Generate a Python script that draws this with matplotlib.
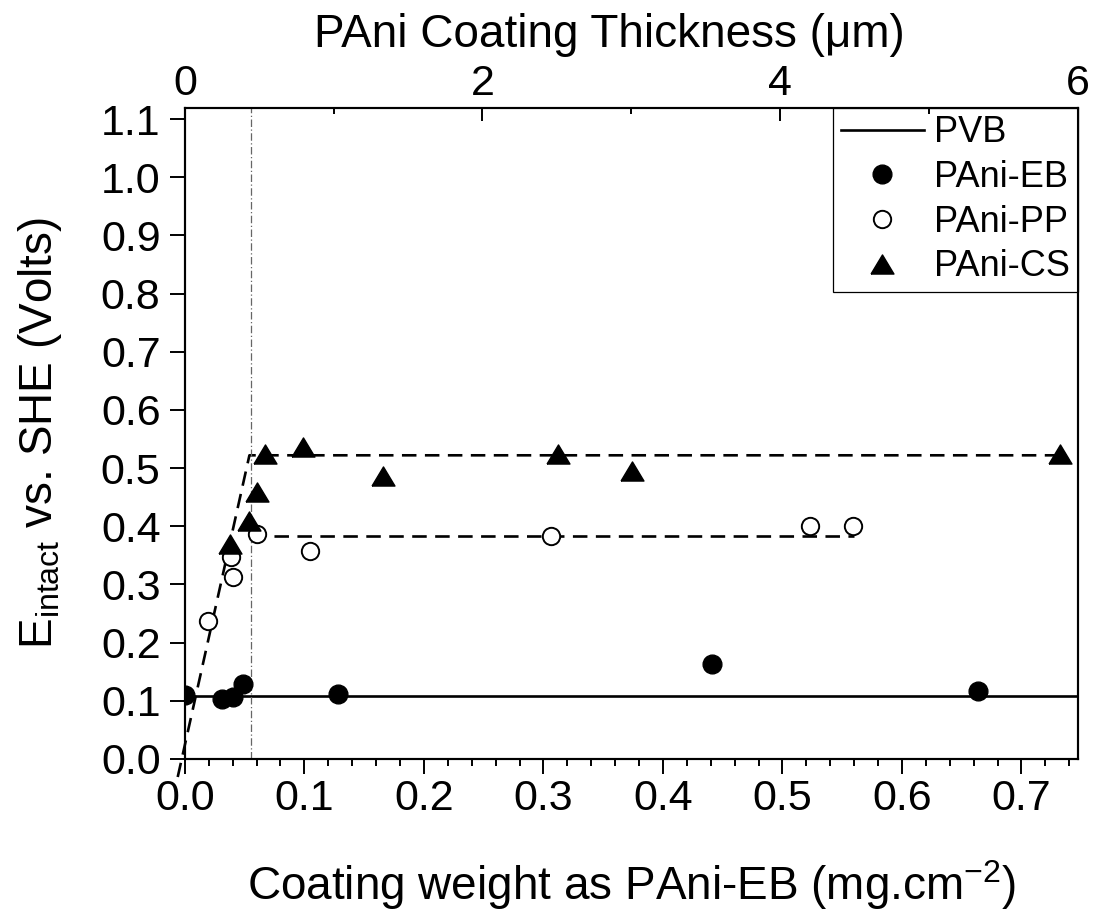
import matplotlib.pyplot as plt
import numpy as np

plt.rcParams['font.family'] = ['Liberation Sans', 'DejaVu Sans']
plt.rcParams['mathtext.fontset'] = 'custom'
plt.rcParams['mathtext.rm'] = 'Liberation Sans'
plt.rcParams['mathtext.it'] = 'Liberation Sans'

# PVB reference potential (horizontal line)
pvb_x = [0.0, 0.747]
pvb_y = [0.108, 0.108]

# PAni-EB (filled circles)
eb_x = [0.0, 0.031, 0.040, 0.0485, 0.128, 0.441, 0.664]
eb_y = [0.110, 0.103, 0.107, 0.129, 0.112, 0.164, 0.117]

# PAni-PP (open circles)
pp_x = [0.019, 0.039, 0.040, 0.060, 0.105, 0.306, 0.523, 0.559]
pp_y = [0.238, 0.347, 0.312, 0.386, 0.357, 0.383, 0.400, 0.400]

# PAni-CS (filled triangles)
cs_x = [0.038, 0.054, 0.060, 0.067, 0.099, 0.166, 0.312, 0.374, 0.732]
cs_y = [0.369, 0.409, 0.459, 0.524, 0.536, 0.486, 0.524, 0.495, 0.524]

# guide lines
cs_fit_x = [-0.006, 0.054, 0.735]
cs_fit_y = [-0.031, 0.522, 0.522]
pp_fit_x = [0.055, 0.560]
pp_fit_y = [0.383, 0.383]
onset_x = 0.055

x_max = 0.747
thick_max = 6.0

# wide flat triangle marker
tri = [(-1.2, -1.0), (1.2, -1.0), (0.0, 1.0), (-1.2, -1.0)]

fig = plt.figure(figsize=(10.94, 9.13), dpi=100)
ax = fig.add_axes([0.169, 0.1687, 0.816, 0.713])

ax.plot(pvb_x, pvb_y, color='black', lw=1.9, label='PVB')
ax.plot(cs_fit_x, cs_fit_y, color='black', lw=1.9, dashes=(5.5, 3.2),
        clip_on=False)
ax.plot(pp_fit_x, pp_fit_y, color='black', lw=1.9, dashes=(5.5, 3.2))
ax.plot([onset_x, onset_x], [0, 1.2], color='#666666', lw=0.9,
        linestyle=(0, (6, 2, 1, 2)))

ax.plot(eb_x, eb_y, 'o', ms=13.5, color='black', label='PAni-EB')
ax.plot(pp_x, pp_y, 'o', ms=12.5, mfc='white', mec='black', mew=1.4,
        label='PAni-PP')
ax.plot(cs_x, cs_y, linestyle='none', marker=tri, ms=16.5, color='black',
        label='PAni-CS')

ax.set_xlim(0, x_max)
ax.set_ylim(0, 1.119)
ax.set_xticks(np.arange(0, 0.71, 0.1))
ax.set_xticks(np.arange(0, 0.75, 0.02), minor=True)
ax.set_yticks(np.arange(0, 1.11, 0.1))
ax.xaxis.set_major_formatter(plt.FormatStrFormatter('%.1f'))
ax.yaxis.set_major_formatter(plt.FormatStrFormatter('%.1f'))
ax.tick_params(axis='both', which='major', direction='out', length=10.5,
               width=1.4, labelsize=31)
ax.tick_params(axis='x', which='major', pad=4)
ax.tick_params(axis='y', which='major', pad=7)
ax.tick_params(axis='x', which='minor', direction='out', length=5,
               width=1.4)
ax.tick_params(axis='y', which='minor', left=False)

ax.set_xlabel('Coating weight as PAni-EB (mg.cm$^{\\mathregular{-2}}$)',
              fontsize=33, labelpad=28)
ax.set_ylabel('E$_{\\mathregular{intact}}$ vs. SHE (Volts)', fontsize=33)
ax.yaxis.set_label_coords(-0.135, 0.5)

for s in ax.spines.values():
    s.set_linewidth(1.5)

# top axis: coating thickness
ax_top = ax.twiny()
ax_top.set_xlim(0, thick_max)
ax_top.set_xticks([0, 2, 4, 6])
ax_top.set_xticks([1, 3, 5], minor=True)
ax_top.tick_params(axis='x', which='major', direction='in', length=9,
                   width=1.4, labelsize=31, pad=3)
ax_top.tick_params(axis='x', which='minor', direction='in', length=4,
                   width=1.4)
ax_top.set_xlabel('PAni Coating Thickness (\u03bcm)', fontsize=33)
ax_top.xaxis.set_label_coords(0.476, 1.094)
for s in ax_top.spines.values():
    s.set_linewidth(1.5)

leg = ax.legend(loc='upper right', fontsize=26, frameon=True,
                fancybox=False, edgecolor='black', framealpha=1,
                borderaxespad=0, borderpad=0.2, handlelength=2.3,
                handletextpad=0.3, labelspacing=0.27)
leg.get_frame().set_linewidth(0.9)

fig.savefig('out.png', dpi=100)
